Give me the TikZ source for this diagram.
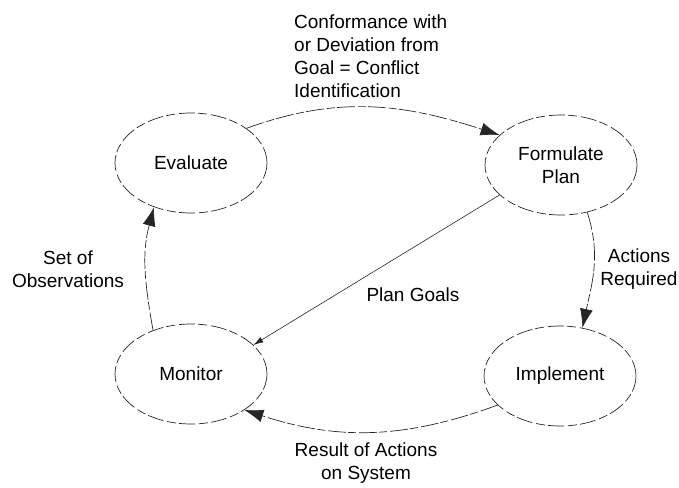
\documentclass[tikz,border=0pt]{standalone}
\usepackage{fontspec}
\setmainfont{Liberation Sans}
\usetikzlibrary{shapes.geometric, arrows.meta}
\tikzstyle{stage} = [ellipse, minimum width=152pt, minimum height=100pt, inner sep=0pt, text centered, align=center, draw=black!85, line width=0.7pt, dash pattern=on 16pt off 4pt on 9pt off 3pt]
\tikzstyle{tag} = [inner sep=0pt, align=center]
\tikzstyle{arrow} = [line width=0.7pt, draw=black!85, dash pattern=on 18pt off 3pt on 8pt off 2pt, -{Latex[length=19pt,width=13pt]}]
\tikzstyle{thinarrow} = [line width=0.6pt, draw=black!85, -{Latex[length=10pt,width=6pt]}]

\begin{document}
\begin{tikzpicture}[x=1pt, y=-1pt, font=\fontsize{19}{23}\selectfont]

    \useasboundingbox (0,0) rectangle (679,487);

    \node (eval) [stage] at (191,163) {Evaluate};
    \node (plan) [stage] at (561,165) {Formulate\\Plan};
    \node (mon) [stage] at (191,374) {Monitor};
    \node (impl) [stage] at (560,376) {Implement};

    \node (conflict) [tag, align=left, anchor=west] at (294,56) {Conformance with\\or Deviation from\\Goal = Conflict\\Identification};
    \node (actions) [tag] at (639,269) {Actions\\Required};
    \node (result) [tag] at (366,463) {Result of Actions\\on System};
    \node (observ) [tag] at (68,269) {Set of\\Observations};
    \node (goals) [tag] at (413,295) {Plan Goals};

    \draw [arrow] (eval.32) to[out=20, in=162] (plan.154);
    \draw [arrow] (plan.-61) to[out=-72, in=78] (impl.65);
    \draw [arrow] (impl.205) to[out=200, in=-18] (mon.-34);
    \draw [arrow] (mon.131) to[out=100, in=255] (eval.230);
    \draw [thinarrow] (plan.206) -- (mon.25);

\end{tikzpicture}
\end{document}
